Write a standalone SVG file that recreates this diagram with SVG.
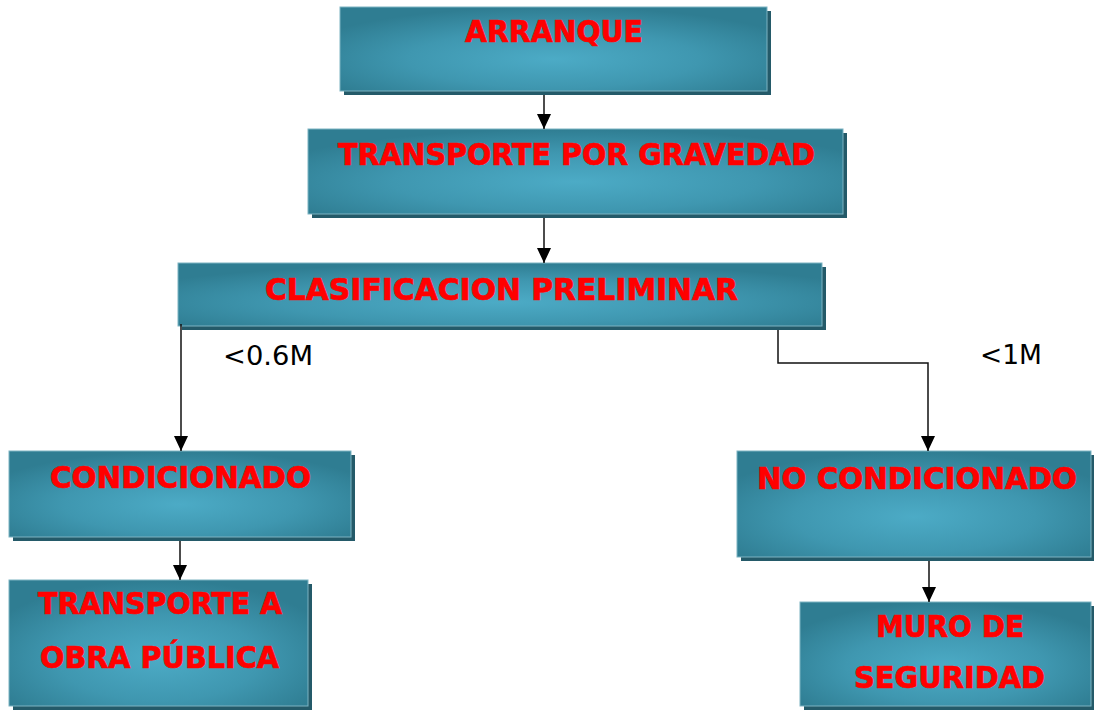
<svg xmlns="http://www.w3.org/2000/svg" width="1094" height="710" viewBox="0 0 1094 710">
<style>
.box{fill:url(#g);stroke:#7db3c2;stroke-width:1}
.sh{fill:#245a69}
.t{font-family:"DejaVu Sans","Liberation Sans",Verdana,sans-serif;font-weight:bold;font-size:31px;fill:#ff0000;stroke:#ff0000;stroke-width:0.7;text-anchor:middle}
.lbl{font-family:"DejaVu Sans","Liberation Sans",Verdana,sans-serif;font-size:27px;fill:#000}
.c{fill:none;stroke:#111;stroke-width:1.5}
</style>
<defs>
<radialGradient id="g" cx="0.5" cy="0.62" r="0.62">
<stop offset="0" stop-color="#4cabc6"/>
<stop offset="0.55" stop-color="#3f97b0"/>
<stop offset="1" stop-color="#2f7d92"/>
</radialGradient>
<marker id="a" markerUnits="userSpaceOnUse" markerWidth="15" markerHeight="14" refX="15" refY="7" orient="auto">
<path d="M0,0 L15,7 L0,14 z" fill="#000"/>
</marker>
</defs>
<rect width="1094" height="710" fill="#fff"/>
<g id="n-arranque">
<rect class="sh" x="344" y="11" width="427" height="84"/>
<rect class="box" x="340" y="7" width="427" height="84"/>
<text class="t" x="554" y="42" textLength="178" lengthAdjust="spacingAndGlyphs">ARRANQUE</text>
</g>
<g id="n-transporte">
<rect class="sh" x="312" y="133" width="535" height="85"/>
<rect class="box" x="308" y="129" width="535" height="85"/>
<text class="t" x="576.5" y="165" textLength="477" lengthAdjust="spacingAndGlyphs">TRANSPORTE POR GRAVEDAD</text>
</g>
<g id="n-clasificacion">
<rect class="sh" x="182" y="267" width="644" height="63"/>
<rect class="box" x="178" y="263" width="644" height="63"/>
<text class="t" x="501.5" y="300" textLength="473" lengthAdjust="spacingAndGlyphs">CLASIFICACION PRELIMINAR</text>
</g>
<g id="n-condicionado">
<rect class="sh" x="13" y="455" width="342" height="86"/>
<rect class="box" x="9" y="451" width="342" height="86"/>
<text class="t" x="180.5" y="488" textLength="261" lengthAdjust="spacingAndGlyphs">CONDICIONADO</text>
</g>
<g id="n-nocondicionado">
<rect class="sh" x="741" y="455" width="357" height="106"/>
<rect class="box" x="737" y="451" width="354" height="106"/>
<text class="t" x="917" y="489" textLength="320" lengthAdjust="spacingAndGlyphs">NO CONDICIONADO</text>
</g>
<g id="n-obrapublica">
<rect class="sh" x="13" y="584" width="299" height="126"/>
<rect class="box" x="9" y="580" width="299" height="126"/>
<text class="t" x="160" y="614" textLength="244" lengthAdjust="spacingAndGlyphs">TRANSPORTE A</text>
<text class="t" x="159.5" y="668" textLength="239" lengthAdjust="spacingAndGlyphs">OBRA PÚBLICA</text>
</g>
<g id="n-muro">
<rect class="sh" x="804" y="606" width="294" height="104"/>
<rect class="box" x="800" y="602" width="291" height="104"/>
<text class="t" x="950" y="637" textLength="148" lengthAdjust="spacingAndGlyphs">MURO DE</text>
<text class="t" x="949.5" y="688" textLength="191" lengthAdjust="spacingAndGlyphs">SEGURIDAD</text>
</g>
<g id="connectors">
<path class="c" d="M544,95 V129" marker-end="url(#a)"/>
<path class="c" d="M544,218 V263" marker-end="url(#a)"/>
<path class="c" d="M181,324 V451" marker-end="url(#a)"/>
<path class="c" d="M778,330 V363 H928 V451" marker-end="url(#a)"/>
<path class="c" d="M180,541 V580" marker-end="url(#a)"/>
<path class="c" d="M929,561 V602" marker-end="url(#a)"/>
</g>
<g id="labels">
<text class="lbl" x="223" y="365" textLength="90" lengthAdjust="spacingAndGlyphs">&lt;0.6M</text>
<text class="lbl" x="980" y="364" textLength="62" lengthAdjust="spacingAndGlyphs">&lt;1M</text>
</g>
</svg>
